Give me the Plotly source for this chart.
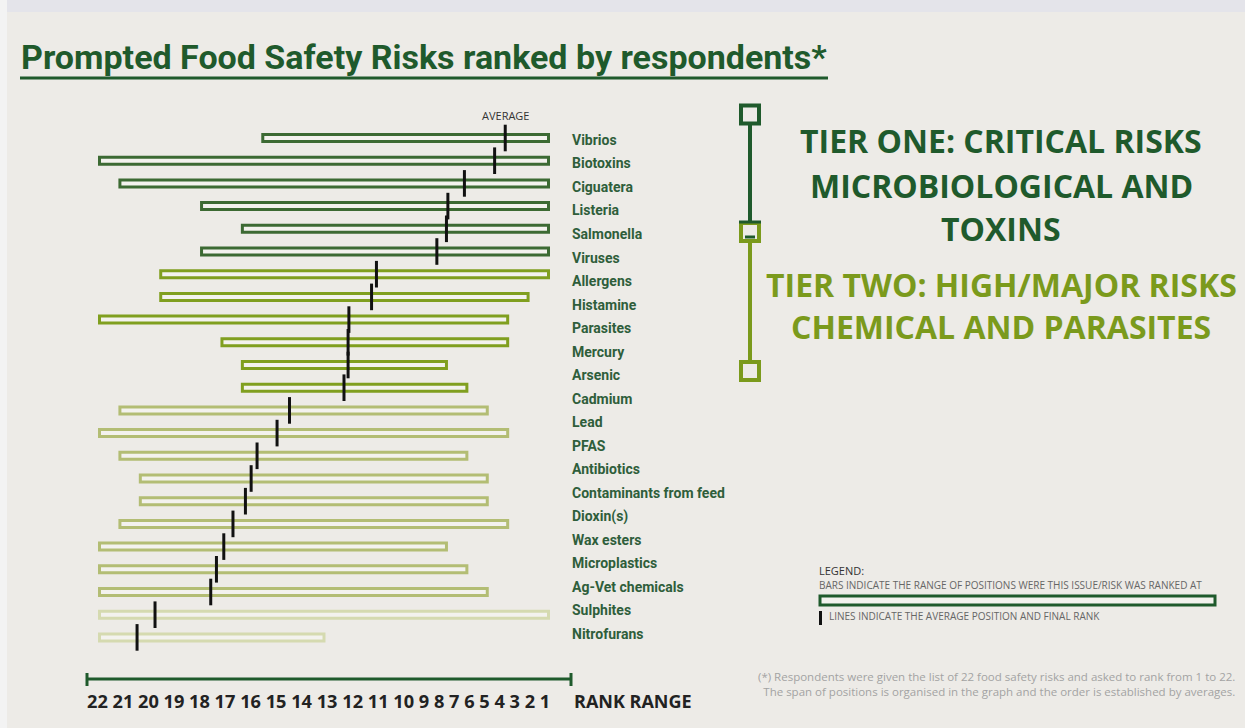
import plotly.graph_objects as go

# ---- data -------------------------------------------------------------
risk_labels = [
    "Vibrios", "Biotoxins", "Ciguatera", "Listeria", "Salmonella", "Viruses",
    "Allergens", "Histamine", "Parasites", "Mercury", "Arsenic", "Cadmium",
    "Lead", "PFAS", "Antibiotics", "Contaminants from feed", "Dioxin(s)",
    "Wax esters", "Microplastics", "Ag-Vet chemicals", "Sulphites", "Nitrofurans",
]

# one entry per bar row, top to bottom
rank_worst = [14, 22, 21, 17, 15, 17,
              19, 19, 22, 16, 15, 15,
              21, 22, 21, 20, 20, 21, 22, 22, 22,
              22, 22]
rank_best = [1, 1, 1, 1, 1, 1,
             1, 2, 3, 3, 6, 5,
             4, 3, 5, 4, 4, 3, 6, 5, 4,
             1, 12]
avg_rank = [2.62, 3.14, 4.62, 5.43, 5.50, 5.97,
            8.93, 9.17, 10.28, 10.32, 10.32, 10.52,
            13.19, 13.80, 14.78, 15.07, 15.35, 15.96, 16.41, 16.77, 17.05,
            19.78, 20.66]
bar_group = [0] * 6 + [1] * 6 + [2] * 9 + [3] * 2

rank_ticks = list(range(22, 0, -1))

# ---- styling ----------------------------------------------------------
W, H = 1245, 728
BG = "#edebe7"
DARK = "#1f5a2c"
OLIVE = "#7b9a1c"
group_colors = ["#3c6a33", "#809f1f", "#b3bd74", "#d5dab0"]
NARROW = "Roboto, Liberation Sans Narrow, sans-serif"
SANS = "Open Sans, sans-serif"


def px(x):
    return x / W


def py(y):
    return 1 - y / H


# plot-area geometry (pixels)
unit = (548.5 - 99.5) / 22
x_lo, x_hi = 22.75, 0.25
x_left = 99.5 - (x_lo - 22.5) * unit
x_right = 548.5 + (0.5 - x_hi) * unit
row_top, row_step = 138.0, 22.7
y_top = row_top - 0.5 * row_step
y_bot = row_top + 22.5 * row_step

# label axis: 22 labels spread from y=140 to y=634
lab_first, lab_last = 140.0, 634.0
lab_step = (lab_last - lab_first) / (len(risk_labels) - 1)
lab_top_v = -(lab_first - y_top) / lab_step
lab_bot_v = lab_top_v + (y_bot - y_top) / lab_step

rows = list(range(len(rank_worst)))

fig = go.Figure()

# range bars
fig.add_trace(go.Bar(
    orientation="h",
    y=rows,
    base=[w + 0.5 for w in rank_worst],
    x=[(b - 0.5) - (w + 0.5) for w, b in zip(rank_worst, rank_best)],
    width=0.31,
    marker=dict(color="#f3f2ee",
                line=dict(color=[group_colors[g] for g in bar_group], width=3)),
    hoverinfo="skip",
    showlegend=False,
))

# average markers
fig.add_trace(go.Scatter(
    x=avg_rank, y=rows, mode="markers",
    marker=dict(symbol="line-ns", size=19, line=dict(color="#111111", width=3)),
    cliponaxis=False, hoverinfo="skip", showlegend=False,
))

# carrier for the label axis
fig.add_trace(go.Scatter(
    x=[1] * len(risk_labels), y=list(range(len(risk_labels))), yaxis="y2",
    mode="markers", marker=dict(opacity=0), hoverinfo="skip", showlegend=False,
))

shapes = []
annotations = []

# backdrop bands
shapes.append(dict(type="rect", xref="paper", yref="paper", x0=0, x1=1,
                   y0=py(12), y1=1, fillcolor="#e4e4ea", line_width=0, layer="below"))
shapes.append(dict(type="rect", xref="paper", yref="paper", x0=0, x1=px(7),
                   y0=0, y1=1, fillcolor="#f3f3f3", line_width=0, layer="below"))

# title + underline
annotations.append(dict(
    text="Prompted Food Safety Risks ranked by respondents*",
    xref="paper", yref="paper", x=px(19), y=py(57), xanchor="left", yanchor="middle",
    showarrow=False, font=dict(family=NARROW, size=34, color=DARK, weight=700)))
shapes.append(dict(type="line", xref="paper", yref="paper", x0=px(20), x1=px(828),
                   y0=py(78), y1=py(78), line=dict(color=DARK, width=3)))

# AVERAGE caption above first marker
annotations.append(dict(
    text="AVERAGE", xref="x", yref="paper", x=avg_rank[0], y=py(115),
    xanchor="center", yanchor="middle", showarrow=False,
    font=dict(family=SANS, size=11, color="#333333")))

# tier connector on the right
cx = 750
shapes += [
    dict(type="line", xref="paper", yref="paper", x0=px(cx), x1=px(cx),
         y0=py(124), y1=py(222), line=dict(color=DARK, width=4)),
    dict(type="line", xref="paper", yref="paper", x0=px(cx), x1=px(cx),
         y0=py(242), y1=py(361), line=dict(color=OLIVE, width=4)),
    dict(type="rect", xref="paper", yref="paper", x0=px(cx - 9), x1=px(cx + 9),
         y0=py(123.5), y1=py(105.5), line=dict(color=DARK, width=4), fillcolor=BG),
    dict(type="rect", xref="paper", yref="paper", x0=px(cx - 9), x1=px(cx + 9),
         y0=py(241), y1=py(223), line=dict(color=OLIVE, width=4), fillcolor=BG),
    dict(type="line", xref="paper", yref="paper", x0=px(cx - 11), x1=px(cx + 11),
         y0=py(222), y1=py(222), line=dict(color=DARK, width=3)),
    dict(type="line", xref="paper", yref="paper", x0=px(cx - 5), x1=px(cx + 5),
         y0=py(237), y1=py(237), line=dict(color=DARK, width=3)),
    dict(type="rect", xref="paper", yref="paper", x0=px(cx - 9), x1=px(cx + 9),
         y0=py(380), y1=py(362), line=dict(color=OLIVE, width=4), fillcolor=BG),
]

tier_lines = [
    ("TIER ONE: CRITICAL RISKS", 141, DARK),
    ("MICROBIOLOGICAL AND", 185, DARK),
    ("TOXINS", 228, DARK),
    ("TIER TWO: HIGH/MAJOR RISKS", 285, OLIVE),
    ("CHEMICAL AND PARASITES", 327, OLIVE),
]
for txt, yy, col in tier_lines:
    annotations.append(dict(
        text=f"<b>{txt}</b>", xref="paper", yref="paper", x=px(1001), y=py(yy),
        xanchor="center", yanchor="middle", showarrow=False,
        font=dict(family=SANS, size=32, color=col)))

# legend box
annotations.append(dict(
    text="LEGEND:", xref="paper", yref="paper", x=px(817), y=py(570),
    xanchor="left", yanchor="middle", showarrow=False,
    font=dict(family=SANS, size=11, color="#333333")))
annotations.append(dict(
    text="BARS INDICATE THE RANGE OF POSITIONS WERE THIS ISSUE/RISK WAS RANKED AT",
    xref="paper", yref="paper", x=px(817), y=py(585),
    xanchor="left", yanchor="middle", showarrow=False,
    font=dict(family=SANS, size=10, color="#666666")))
shapes.append(dict(type="rect", xref="paper", yref="paper", x0=px(820), x1=px(1215),
                   y0=py(605), y1=py(596), line=dict(color=DARK, width=3),
                   fillcolor="#f3f2ee"))
shapes.append(dict(type="line", xref="paper", yref="paper", x0=px(820.5), x1=px(820.5),
                   y0=py(625), y1=py(611), line=dict(color="#111111", width=3)))
annotations.append(dict(
    text="LINES INDICATE THE AVERAGE POSITION AND FINAL RANK",
    xref="paper", yref="paper", x=px(827), y=py(616),
    xanchor="left", yanchor="middle", showarrow=False,
    font=dict(family=SANS, size=10, color="#666666")))

# footnote
annotations.append(dict(
    text="(*) Respondents were given the list of 22 food safety risks and asked to rank from 1 to 22.<br>"
         "The span of positions is organised in the graph and the order is established by averages.",
    xref="paper", yref="paper", x=px(1237), y=py(684),
    xanchor="right", yanchor="middle", align="right", showarrow=False,
    font=dict(family=SANS, size=11.5, color="#a3a3a3")))

# rank scale at the bottom
shapes += [
    dict(type="line", xref="paper", yref="paper", x0=px(87), x1=px(571),
         y0=py(679), y1=py(679), line=dict(color=DARK, width=3)),
    dict(type="line", xref="paper", yref="paper", x0=px(87), x1=px(87),
         y0=py(673), y1=py(686), line=dict(color=DARK, width=3)),
    dict(type="line", xref="paper", yref="paper", x0=px(571), x1=px(571),
         y0=py(673), y1=py(686), line=dict(color=DARK, width=3)),
]
annotations.append(dict(
    text="<b>" + " ".join(str(t) for t in rank_ticks) + "</b>",
    xref="paper", yref="paper", x=px(85), y=py(701),
    xanchor="left", yanchor="middle", showarrow=False,
    font=dict(family=SANS, size=18.2, color="#222222")))
annotations.append(dict(
    text="<b>RANK RANGE</b>", xref="paper", yref="paper", x=px(572), y=py(701),
    xanchor="left", yanchor="middle", showarrow=False,
    font=dict(family=SANS, size=18, color="#222222")))

fig.update_layout(
    width=W, height=H,
    margin=dict(l=0, r=0, t=0, b=0, pad=0),
    paper_bgcolor=BG, plot_bgcolor=BG,
    showlegend=False,
    xaxis=dict(domain=[px(x_left), px(x_right)], range=[x_lo, x_hi],
               visible=False, fixedrange=True),
    yaxis=dict(domain=[py(y_bot), py(y_top)], range=[22.5, -0.5],
               visible=False, fixedrange=True),
    yaxis2=dict(overlaying="y", anchor="free", side="right",
                position=px(571), domain=[py(y_bot), py(y_top)],
                range=[lab_bot_v, lab_top_v],
                tickmode="array", tickvals=list(range(len(risk_labels))),
                ticktext=risk_labels, ticks="", showgrid=False, zeroline=False,
                showline=False,
                tickfont=dict(family=NARROW, size=14, color="#2f5e3b", weight=700),
                fixedrange=True),
    shapes=shapes,
    annotations=annotations,
)

fig.write_html("out.html")
